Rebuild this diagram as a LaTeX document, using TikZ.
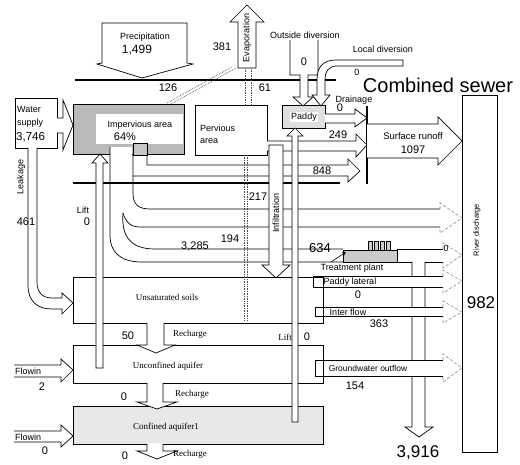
\documentclass[tikz,border=0pt]{standalone}
\usepackage{fontspec}
\setmainfont{Liberation Serif}
\setsansfont{Liberation Sans}
\usetikzlibrary{arrows.meta}
\begin{document}
\begin{tikzpicture}[x=1pt,y=-1pt,
  lbl/.style={font=\sffamily\fontsize{9}{10}\selectfont, inner sep=0pt},
  num/.style={font=\sffamily\fontsize{11}{12}\selectfont, inner sep=0pt},
  ser/.style={font=\rmfamily\fontsize{9}{10}\selectfont, inner sep=0pt},
  big/.style={font=\sffamily\fontsize{17}{19}\selectfont, inner sep=0pt},
  ln/.style={line width=0.7pt},
  fl/.style={draw, line width=0.7pt, fill=white},
  gnd/.style={line width=1.8pt},
  dl/.style={densely dotted, line width=0.7pt, black!70},
  gh/.style={draw=black!45, line width=0.6pt, densely dashed},
]
\useasboundingbox (0,0) rectangle (520,465);
\fill[white] (0,0) rectangle (520,465);

% ground lines
\draw[gnd] (75,80) -- (336,80);
\draw[gnd] (73,183) -- (340,183);

% precipitation
\draw[fl] (102,23) -- (187,23) -- (187,63) -- (193,64) -- (142,78) -- (97,64) -- (102,63) -- cycle;
\node[lbl] (tprec) at (145,37) {Precipitation};
\node[font=\sffamily\fontsize{12}{13}\selectfont, inner sep=0pt] (tprecv) at (137,50) {1,499};

% evaporation
\draw[fl] (238,68) -- (238,22) -- (230,22) -- (247,5) -- (264,22) -- (256,22) -- (256,68) -- cycle;
\node[lbl, rotate=90] (tevap) at (247,38) {Evaporation};
\node[num] (t381) at (222,47) {381};
\draw[dl] (167,103) -- (232,67);
\draw[dl] (171,104) -- (236,68);
\draw[dl] (245,68) -- (245,105);
\draw[dl] (251,68) -- (251,105);
\node[num] (t126) at (168,88) {126};
\node[num] (t61) at (265,88) {61};

% water supply
\draw[ln] (15,98) rectangle (57,148);
\draw[fl] (57,118) -- (63,118) -- (63,100) -- (73,125) -- (63,150) -- (63,133) -- (57,133);
\node[lbl, anchor=west] (tws1) at (17,109) {Water};
\node[lbl, anchor=west] (tws2) at (17,123) {supply};
\node[font=\sffamily\fontsize{11.5}{12}\selectfont, inner sep=0pt, anchor=west] (tws3) at (16,137) {3,746};

% impervious area
\fill[gray!55] (73,104) rectangle (184,154);
\fill[white] (96,114) rectangle (183,144);
\draw[ln] (132,154) -- (184,154) -- (184,104) -- (73,104) -- (73,154) -- (110,154);
\fill[white] (110,147) rectangle (132,156);
\draw[ln, fill=gray!45] (133,143) rectangle (147,155);
\node[lbl] (timp) at (140,125) {Impervious area};
\node[font=\sffamily\fontsize{11}{12}\selectfont, inner sep=0pt] (t64) at (125,137) {64\%};

% pervious area
\draw[ln] (195,105) rectangle (267,155);
\node[lbl, anchor=west] (tper1) at (200,128) {Pervious};
\node[lbl, anchor=west] (tper2) at (200,141) {area};

% paddy
\draw[ln, fill=gray!25] (282,105) rectangle (325,128);
\node[lbl, fill=white, inner sep=1pt] (tpad) at (304,117) {Paddy};

% outside diversion
\draw[fl] (290,40) -- (290,75) -- (300,75) -- (300,97) -- (293,97) -- (303,106) -- (313,97) -- (308,97) -- (308,75) -- (318,75) -- (318,40);
\node[lbl] (tod) at (305,35) {Outside diversion};
\node[num] (tod0) at (304,62) {0};

% local diversion
\draw[fl] (403,60) -- (336,60) .. controls (323,60) and (317,67) .. (317,80) -- (317,95) -- (312,95) -- (321,106) -- (330,95) -- (325,95) -- (325,80) .. controls (325,71) and (329,66) .. (337,66) -- (403,66) -- cycle;
\node[lbl] (tld) at (383,49) {Local diversion};

% combined sewer
\node[font=\sffamily\fontsize{20}{22}\selectfont, inner sep=0pt] (tcs) at (438,85) {Combined sewer};
\node[font=\sffamily\fontsize{9}{10}\selectfont, inner sep=0pt] (tcs0) at (357,72) {0};
\node[lbl] (tdr) at (354,100) {Drainage};
\draw[line width=1.2pt] (367,106) -- (367,184);

% paddy -> drainage
\draw[fl] (325,114) -- (355,114) -- (355,109) -- (367,118) -- (355,127) -- (355,123) -- (325,123);
\node[num] (tp0) at (340,108) {0};
% 249
\draw[fl] (267,141) -- (356,141) -- (356,134) -- (367,145) -- (356,157) -- (356,151) -- (267,151);
\node[num] (t249) at (338,135) {249};

% surface runoff
\draw[fl] (367,124) -- (438,124) -- (438,117) -- (462,141) -- (438,165) -- (438,158) -- (367,158);
\node[font=\sffamily\fontsize{9.5}{10}\selectfont, inner sep=0pt] (tsr) at (413,136) {Surface runoff};
\node[num] (tsrv) at (413,150) {1097};

% 848 channel
\draw[ln] (147,155) -- (147,165) -- (348,165) -- (348,159) -- (360,171) -- (348,182) -- (348,176) -- (133,176);
\node[num] (t848) at (322,171) {848};

% big channels from impervious area
\draw[ln] (133,155) -- (133,193) .. controls (133,204) and (138,209) .. (150,209) -- (440,209);
\draw[ln] (123,213) .. controls (126,222) and (130,227) .. (140,227) -- (440,227);
\draw[gh] (440,209) -- (440,203) -- (462,218) -- (440,233) -- (440,227);
\draw[ln] (123,213) .. controls (121,238) and (132,249) .. (155,249) -- (343,249);
\draw[ln] (110,147) -- (110,235) .. controls (110,252) and (120,262) .. (142,262) -- (343,262);
\node[num] (t217) at (258,197) {217};
\node[num] (t194) at (230,239) {194};
\node[num] (t3285) at (195,246) {3,285};

% 3,916 outflow
\draw[fl] (412,262) -- (412,427) -- (405,427) -- (419,437) -- (433,427) -- (425,427) -- (425,262);
\node[font=\sffamily\fontsize{17}{19}\selectfont, inner sep=0pt] (t3916) at (418,453) {3,916};

% treatment plant
\draw[ln, fill=gray!40] (343,250) rectangle (397,262);
\foreach \cx in {368,374,380,386}{
  \draw[ln, fill=gray!40] (\cx,250) -- (\cx,241) -- (\cx+4,241) -- (\cx+4,250);
}
\draw[line width=0.6pt, -{Stealth[length=4pt,width=4pt]}] (331,262) -- (346,252);
\node[font=\sffamily\fontsize{13}{14}\selectfont, inner sep=0pt] (t634) at (320,248) {634};
\draw[ln] (397,249) -- (443,249);
\draw[ln] (397,262) -- (412,262);
\draw[ln] (425,262) -- (443,262);
\draw[gh] (443,249) -- (443,243) -- (462,255) -- (443,268) -- (443,262);
\node[font=\sffamily\fontsize{9}{10}\selectfont, inner sep=0pt] (ttp0) at (446,248) {0};
\node[lbl] (ttp) at (352,268) {Treatment plant};

% paddy lateral
\fill[white] (313,276) rectangle (443,287);
\draw[ln] (443,276) -- (313,276) -- (313,287) -- (443,287);
\draw[gh] (443,276) -- (443,270) -- (462,281) -- (443,293) -- (443,287);
\node[lbl] (tpl) at (350,282) {Paddy lateral};
\node[num] (tpl0) at (358,295) {0};

% inter flow
\fill[white] (315,307) rectangle (443,316);
\draw[ln] (443,307) -- (315,307) -- (315,316) -- (443,316);
\draw[gh] (443,307) -- (443,301) -- (462,312) -- (443,323) -- (443,316);
\node[lbl] (tif) at (348,312) {Inter flow};
\node[num] (t363) at (379,324) {363};

% groundwater outflow
\fill[white] (315,360) rectangle (443,376);
\draw[ln] (443,360) -- (315,360) -- (315,376) -- (443,376);
\draw[gh] (443,360) -- (443,354) -- (462,368) -- (443,382) -- (443,376);
\node[font=\sffamily\fontsize{8.5}{9}\selectfont, inner sep=0pt] (tgo) at (368,368) {Groundwater outflow};
\node[num] (t154) at (355,386) {154};

% river discharge
\draw[ln] (462,95) rectangle (497,452);
\node[font=\sffamily\fontsize{7.5}{8}\selectfont, inner sep=0pt, rotate=90] (trd) at (477,230) {River discharge};
\node[font=\sffamily\fontsize{17}{19}\selectfont, fill=white, inner sep=2pt] (t982) at (481,303) {982};

% soil boxes
\draw[ln] (73,277) rectangle (323,323);
\node[ser] (tus) at (167,297) {Unsaturated soils};
\draw[ln] (73,345) rectangle (323,383);
\node[ser] (tua) at (168,366) {Unconfined aquifer};
\draw[ln, fill=gray!18] (73,406) rectangle (323,444);
\node[ser] (tca) at (166,427) {Confined aquifer1};
\node[ser] (tlift2) at (285,337) {Lift};
\node[num] (tlift20) at (307,337) {0};

% vertical arrows on top
\draw[fl] (269,145) -- (269,265) -- (262,265) -- (276,278) -- (290,265) -- (283,265) -- (283,145) -- cycle;
\node[lbl, rotate=90] (tinf) at (276,213) {Infiltration};
\draw[fl] (292,422) -- (292,136) -- (287,136) -- (295,128) -- (303,136) -- (298,136) -- (298,422) -- cycle;
\draw[fl] (96,368) -- (96,163) -- (92,163) -- (100,154) -- (108,163) -- (103,163) -- (103,368) -- cycle;
\node[lbl] (tlift) at (83,210) {Lift};
\node[num] (tlift0) at (87,222) {0};

% dotted infiltration trace
\draw[dl] (244,155) -- (244,320);
\draw[dl] (247,155) -- (247,320);

% leakage
\draw[fl] (28,148) -- (28,285) .. controls (28,302) and (38,309) .. (52,309) -- (62,309) -- (62,314) -- (73,303) -- (62,293) -- (62,298) -- (52,298) .. controls (42,298) and (37,292) .. (37,282) -- (37,148);
\node[lbl, rotate=90] (tleak) at (21,177) {Leakage};
\node[num] (t461) at (26,222) {461};

% flowin arrows
\draw[fl] (14,365) -- (61,365) -- (61,359) -- (73,370) -- (61,382) -- (61,377) -- (14,377);
\node[lbl, anchor=west] (tfl1) at (15,371) {Flowin};
\node[num] (tfl1v) at (42,387) {2};
\draw[fl] (14,431) -- (61,431) -- (61,425) -- (73,436) -- (61,447) -- (61,442) -- (14,442);
\node[lbl, anchor=west] (tfl2) at (15,437) {Flowin};
\node[num] (tfl2v) at (45,451) {0};

% recharge arrows
\fill[white] (147,322) -- (147,345) -- (137,345) -- (156,353) -- (175,345) -- (164,345) -- (164,322) -- cycle;
\draw[ln] (147,323) -- (147,345) -- (137,345) -- (156,353) -- (175,345) -- (164,345) -- (164,323);
\node[num] (t50) at (128,336) {50};
\node[ser] (tr1) at (190,334) {Recharge};
\fill[white] (147,382) -- (147,402) -- (137,402) -- (157,409) -- (177,402) -- (163,402) -- (163,382) -- cycle;
\draw[ln] (147,383) -- (147,402) -- (137,402) -- (157,409) -- (177,402) -- (163,402) -- (163,383);
\node[num] (tr2v) at (124,397) {0};
\node[ser] (tr2) at (192,394) {Recharge};
\fill[white] (147,443) -- (147,451) -- (137,451) -- (157,459) -- (177,451) -- (163,451) -- (163,443) -- cycle;
\draw[ln] (147,444) -- (147,451) -- (137,451) -- (157,459) -- (177,451) -- (163,451) -- (163,444);
\node[num] (tr3v) at (125,456) {0};
\node[ser] (tr3) at (190,454) {Recharge};
\end{tikzpicture}
\end{document}
